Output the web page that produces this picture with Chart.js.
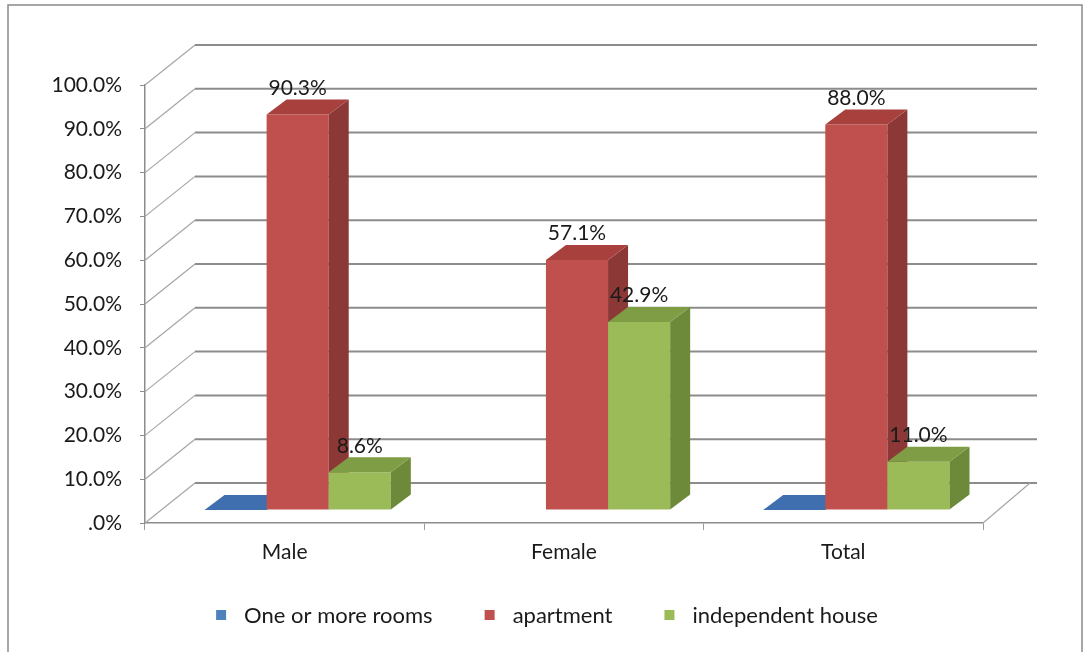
<!DOCTYPE html>
<html>
<head>
<meta charset="utf-8">
<script src="https://cdn.jsdelivr.net/npm/chart.js@4.4.1/dist/chart.umd.min.js"></script>
<style>
  html, body { margin: 0; background: #fff; }
  #wrap { width: 1084px; height: 652px; }
</style>
</head>
<body>
<div id="wrap"><canvas id="chart" width="1084" height="652"></canvas></div>
<script>
/* data */
const categories = ["Male", "Female", "Total"];
const seriesNames = ["One or more rooms", "apartment", "independent house"];
const roomsValues = [0, null, 0];
const apartmentValues = [90.3, 57.1, 88.0];
const houseValues = [8.6, 42.9, 11.0];
const yTickValues = [0, 10, 20, 30, 40, 50, 60, 70, 80, 90, 100];

/* face colours: front, side, top */
const faces = [
  { front: "#4f81bd", side: "#385d8a", top: "#3f6fae" },
  { front: "#c0504d", side: "#8c3836", top: "#a8403d" },
  { front: "#9bbb59", side: "#6c8a3a", top: "#7f9d44" },
];

const FONT = "Lato, 'Open Sans', sans-serif";
const WALL = { dx: 50, dy: -40 };   // depth of the floor / side wall
const SHIFT = { dx: 13, dy: -13 };  // bars sit a little back from the front edge
const BAR = { dx: 20, dy: -15 };    // depth of one bar

function poly(ctx, pts, fill) {
  ctx.beginPath();
  ctx.moveTo(pts[0][0], pts[0][1]);
  for (let i = 1; i < pts.length; i++) ctx.lineTo(pts[i][0], pts[i][1]);
  ctx.closePath();
  ctx.fillStyle = fill;
  ctx.fill();
}

const fake3d = {
  id: "fake3d",
  beforeDraw(chart) {
    const ctx = chart.ctx;
    ctx.save();
    ctx.fillStyle = "#fff";
    ctx.fillRect(0, 0, chart.width, chart.height);
    ctx.strokeStyle = "#8a8a8a";
    ctx.lineWidth = 1.5;
    ctx.beginPath();
    ctx.moveTo(8, chart.height + 5);
    ctx.lineTo(8, 5);
    ctx.lineTo(1082, 5);
    ctx.lineTo(1082, chart.height + 5);
    ctx.stroke();
    ctx.restore();
  },
  beforeDatasetsDraw(chart) {
    const ctx = chart.ctx;
    const { left, right, bottom } = chart.chartArea;
    const ys = chart.scales.y;
    ctx.save();
    // walls: front tick -> back corner -> along the back wall
    yTickValues.forEach(v => {
      const y = ys.getPixelForValue(v);
      ctx.strokeStyle = "#a6a6a6";
      ctx.lineWidth = 1.2;
      ctx.beginPath();
      ctx.moveTo(left, y);
      ctx.lineTo(left + WALL.dx, y + WALL.dy);
      ctx.stroke();
      ctx.strokeStyle = "#8c8c8c";
      ctx.lineWidth = 2;
      ctx.beginPath();
      ctx.moveTo(left + WALL.dx, y + WALL.dy);
      ctx.lineTo(right + WALL.dx + 4, y + WALL.dy);
      ctx.stroke();
    });
    // floor right edge
    ctx.strokeStyle = "#a6a6a6";
    ctx.lineWidth = 1.2;
    ctx.beginPath();
    ctx.moveTo(right, bottom);
    ctx.lineTo(right + WALL.dx - 3, bottom + WALL.dy);
    ctx.stroke();

    // bars, left to right so the next bar covers the previous side face
    const metas = chart.data.datasets.map((d, i) => chart.getDatasetMeta(i));
    categories.forEach((c, i) => {
      metas.forEach((meta, d) => {
        const v = chart.data.datasets[d].data[i];
        if (v === null || v === undefined) return;
        const el = meta.data[i];
        const p = el.getProps(["x", "y", "base", "width"], true);
        const x0 = p.x - p.width / 2 + SHIFT.dx;
        const x1 = p.x + p.width / 2 + SHIFT.dx;
        const top = p.y + SHIFT.dy;
        const bot = p.base + SHIFT.dy;
        const f = faces[d];
        if (bot - top > 0.5) {
          poly(ctx, [[x0, top], [x1, top], [x1, bot], [x0, bot]], f.front);
          poly(ctx, [[x1, top], [x1 + BAR.dx, top + BAR.dy], [x1 + BAR.dx, bot + BAR.dy], [x1, bot]], f.side);
        }
        poly(ctx, [[x0, top], [x1, top], [x1 + BAR.dx, top + BAR.dy], [x0 + BAR.dx, top + BAR.dy]], f.top);
      });
    });

    // value labels
    ctx.font = "21px " + FONT;
    ctx.fillStyle = "#1a1a1a";
    ctx.textAlign = "center";
    ctx.textBaseline = "bottom";
    metas.forEach((meta, d) => {
      if (d === 0) return;
      meta.data.forEach((el, i) => {
        const v = chart.data.datasets[d].data[i];
        if (v === null || v === undefined) return;
        const p = el.getProps(["x", "y"], true);
        ctx.fillText(v.toFixed(1) + "%", p.x + SHIFT.dx, p.y + SHIFT.dy + BAR.dy - 1);
      });
    });
    ctx.restore();
    return false;
  },
  afterDraw(chart) {
    // legend row under the axis
    const ctx = chart.ctx;
    ctx.save();
    ctx.font = "22px " + FONT;
    ctx.textBaseline = "middle";
    ctx.textAlign = "left";
    const box = 10, gap = 18, between = 52;
    const widths = seriesNames.map(n => ctx.measureText(n).width);
    const total = widths.reduce((a, w) => a + box + gap + w, 0) + between * (seriesNames.length - 1);
    let x = 547 - total / 2;
    const y = 615;
    seriesNames.forEach((n, i) => {
      ctx.fillStyle = faces[i].front;
      ctx.fillRect(x, y - box / 2, box, box);
      ctx.fillStyle = "#1a1a1a";
      ctx.fillText(n, x + box + gap, y + 1);
      x += box + gap + widths[i] + between;
    });
    ctx.restore();
  },
};

new Chart(document.getElementById("chart"), {
  type: "bar",
  data: {
    labels: categories,
    datasets: [
      { label: seriesNames[0], data: roomsValues, backgroundColor: faces[0].front },
      { label: seriesNames[1], data: apartmentValues, backgroundColor: faces[1].front },
      { label: seriesNames[2], data: houseValues, backgroundColor: faces[2].front },
    ],
  },
  options: {
    responsive: false,
    animation: false,
    devicePixelRatio: 1,
    categoryPercentage: 0.667,
    barPercentage: 1,
    layout: { padding: { top: 85, right: 0, left: 0, bottom: 89 } },
    plugins: {
      tooltip: { enabled: false },
      legend: { display: false },
    },
    scales: {
      x: {
        grid: { display: true, drawOnChartArea: false, offset: true, tickLength: 7, color: "#9a9a9a" },
        border: { display: true, color: "#8c8c8c", width: 1.5 },
        ticks: { font: { family: FONT, size: 21 }, color: "#1a1a1a", padding: 10 },
        afterFit(s) { s.height = 40; },
      },
      y: {
        min: 0, max: 100,
        afterBuildTicks(s) { s.ticks = yTickValues.map(v => ({ value: v })); },
        grid: { display: true, drawOnChartArea: false, tickLength: 5, color: "#8c8c8c" },
        border: { display: true, color: "#8c8c8c", width: 1.5 },
        ticks: {
          font: { family: FONT, size: 21 }, color: "#1a1a1a", padding: 18,
          callback: v => (v === 0 ? ".0%" : v.toFixed(1) + "%"),
        },
        afterFit(s) { s.width = 145; },
      },
      y2: {
        position: "right", display: true, min: 0, max: 100,
        grid: { display: false }, border: { display: false }, ticks: { display: false },
        afterFit(s) { s.width = 101; },
      },
    },
  },
  plugins: [fake3d],
});
</script>
</body>
</html>
